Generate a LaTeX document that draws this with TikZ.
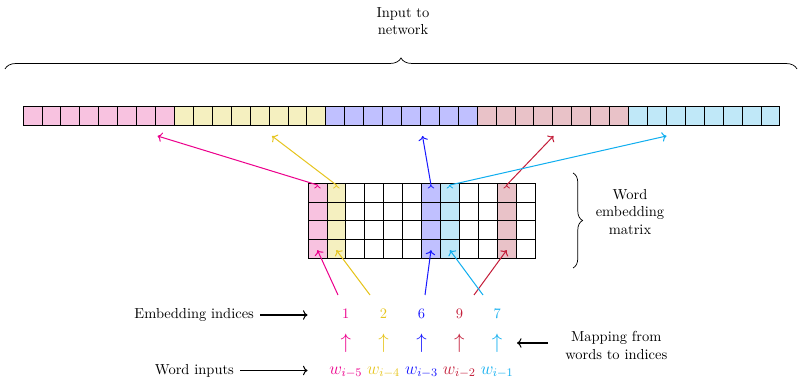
\documentclass[tikz,border=0pt]{standalone}
\usetikzlibrary{decorations.pathreplacing,arrows.meta,calc}
\definecolor{cM}{HTML}{EC008C}
\definecolor{cMf}{HTML}{F8C2E0}
\definecolor{cY}{HTML}{E6C520}
\definecolor{cYf}{HTML}{F5F0C0}
\definecolor{cB}{HTML}{1A1AFF}
\definecolor{cBf}{HTML}{C0C0FF}
\definecolor{cR}{HTML}{C41E3A}
\definecolor{cRf}{HTML}{E9C2C8}
\definecolor{cC}{HTML}{10AEEF}
\definecolor{cCf}{HTML}{C0E8F8}
\begin{document}
\begin{tikzpicture}[x=0.69pt,y=-0.69pt,
  cell/.style={draw=black, line width=0.5pt, minimum width=13.05pt, minimum height=13.05pt, inner sep=0pt, outer sep=0pt},
  conn/.style={->, line width=0.7pt},
  tipup/.style={-to, line width=0.7pt},
  lab/.style={align=center},
  sidelab/.style={inner xsep=4pt, inner ysep=0pt},
  brc/.style={decorate, line width=0.5pt},
  ]
\useasboundingbox (0,0) rectangle (799,379);

% top bar
\foreach \g/\f in {0/cMf,1/cYf,2/cBf,3/cRf,4/cCf} {
  \foreach \j in {0,...,7} {
    \pgfmathtruncatemacro\k{8*\g+\j}
    \node[cell, fill=\f] (b\k) at ({23+18.92*(\k+0.5)}, 115.46) {};
  }
}

% embedding matrix
\foreach \c/\f in {0/cMf,1/cYf,2/white,3/white,4/white,5/white,6/cBf,7/cCf,8/white,9/white,10/cRf,11/white} {
  \foreach \r in {0,...,3} {
    \node[cell, fill=\f] (m\c-\r) at ({308+18.92*(\c+0.5)}, {183+18.92*(\r+0.5)}) {};
  }
}

% braces
\draw[brc, decoration={brace, amplitude=7.6pt}] (5,69) -- (797,69);
\draw[brc, decoration={brace, amplitude=6.6pt}] (573,173) -- (573,268);

% labels
\node[lab] (inp) at (403,21) {Input to\\network};
\node[lab] (wem) at (630,212) {Word\\embedding\\matrix};
\node[lab, anchor=west, inner xsep=11.7pt] (map) at (548,345.5) {Mapping from\\words to indices};
\node[sidelab, anchor=base east] (embl) at (260,319) {Embedding indices};
\node[sidelab, anchor=base east] (wil) at (240,374) {Word inputs};

\coordinate (embe) at (307.5,315);
\coordinate (wie) at (307.5,370.5);
\coordinate (mape) at (517,343);
\draw[conn] (embl.east |- embe) -- (embe);
\draw[conn] (wil.east |- wie) -- (wie);
\draw[conn] (map.west |- mape) -- (mape);

% indices, arrows, words
\foreach \x/\col/\num/\w [count=\n] in {345.8/cM/1/5, 383.6/cY/2/4, 421.5/cB/6/3, 459.4/cR/9/2, 497.2/cC/7/1} {
  \node[text=\col, anchor=base, inner sep=0pt] (n\n) at (\x,319) {\num};
  \node[text=\col, inner sep=0pt, font=\fontsize{13.5}{16}\selectfont] (p\n) at (\x,343.5) {$\uparrow$};
  \node[text=\col, anchor=base, inner sep=0pt, font=\large] (w\n) at (\x,374) {$w_{i-\w}$};
}

% column top points, bar targets, lower start points
\foreach \c/\col/\ex/\s/\sx in {0/cM/157.5/1/338, 1/cY/272/2/370, 6/cB/422.5/3/425, 10/cR/553.5/4/474, 7/cC/666.5/5/483} {
  \coordinate (top\c) at ($(m\c-0.north)+(0,2)$);
  \coordinate (bot\c) at ($(m\c-3.south)+(0,-8.5)$);
  \coordinate (end\c) at (\ex,136);
  \coordinate (st\s) at (\sx,295);
  \draw[conn, \col] (top\c) -- (end\c);
  \draw[tipup, \col] ($(top\c)+(0,0.2)$) -- (top\c);
  \draw[conn, \col] (st\s) -- (bot\c);
}
\end{tikzpicture}
\end{document}
